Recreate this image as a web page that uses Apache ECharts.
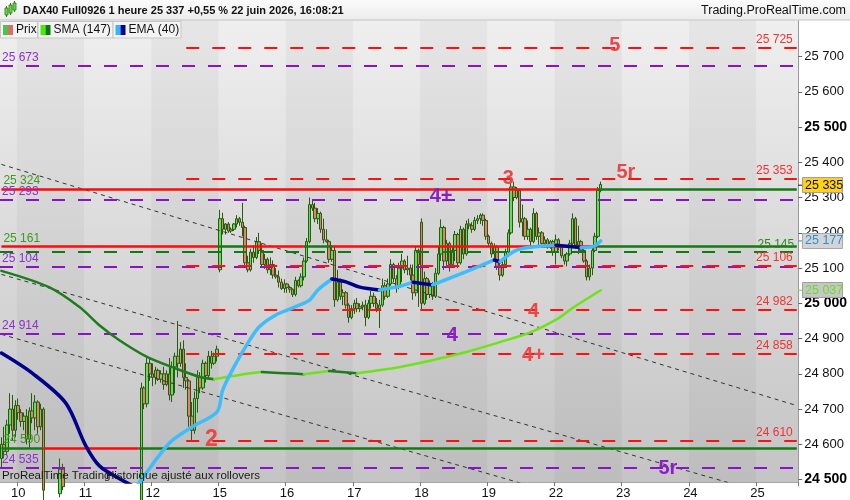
<!DOCTYPE html>
<html><head><meta charset="utf-8">
<script src="https://cdn.jsdelivr.net/npm/echarts@6/dist/echarts.min.js"></script>
<style>html,body{margin:0;padding:0;background:#fff}#c{width:850px;height:500px}</style>
</head><body><div id="c"></div>
<script>
// ---------- DATA ----------
const days = [9,10,11,12,15,16,17,18,19,22,23,24,25];
const firstDayHours = [18,19,20,21,22,23];
const lastDayBars = 15;
const titleText = 'DAX40 Full0926 1 heure 25 337 +0,55 % 22 juin 2026, 16:08:21';
const brandText = 'Trading.ProRealTime.com';
const footerText1 = 'ProRealTime Trading';
const footerText2 = 'Historique ajusté aux rollovers';
const yTicks = [24500,24600,24700,24800,24900,25000,25100,25200,25300,25400,25500,25600,25700];
const yMin = 24493.3, yMax = 25803.5;

// candles [open, close, low, high]
const day09 = [[24560,24600,24530,24620],[24600,24580,24560,24650],[24580,24655,24570,24670],[24655,24700,24630,24745],[24700,24640,24610,24740],[24640,24710,24620,24725]];
const day10 = [[24710,24690,24670,24730],[24690,24665,24650,24700],[24665,24680,24640,24690],[24680,24615,24600,24700],[24615,24695,24590,24705],[24695,24675,24660,24745],[24675,24720,24640,24740],[24720,24650,24630,24725],[24650,24700,24640,24715],[24700,24470,24440,24705],[24470,24420,24400,24480],[24420,24400,24380,24450],[24400,24410,24370,24430],[24410,24440,24390,24460],[24440,24460,24420,24480],[24460,24530,24450,24560],[24530,24480,24470,24545],[24480,24440,24420,24490],[24440,24420,24400,24460],[24420,24390,24380,24440],[24390,24370,24350,24410],[24370,24380,24340,24400],[24380,24350,24330,24400],[24350,24340,24320,24380]];
const day11 = [[24340,24330,24310,24360],[24330,24310,24295,24345],[24310,24320,24300,24340],[24320,24300,24285,24335],[24300,24290,24270,24310],[24290,24310,24280,24325],[24310,24330,24300,24350],[24330,24320,24305,24345],[24320,24300,24285,24330],[24300,24280,24260,24310],[24280,24300,24270,24320],[24300,24320,24290,24335],[24320,24340,24310,24355],[24340,24330,24315,24350],[24330,24350,24320,24370],[24350,24360,24340,24380],[24360,24340,24330,24375],[24340,24350,24330,24365],[24350,24370,24345,24390],[24370,24400,24360,24420],[24400,24760,24390,24775],[24760,24715,24700,24765],[24715,24830,24705,24845],[24830,24800,24780,24845]];
const day12 = [[24800,24790,24765,24830],[24790,24810,24770,24820],[24810,24785,24780,24815],[24785,24800,24775,24810],[24800,24770,24755,24820],[24770,24800,24765,24810],[24800,24740,24725,24845],[24740,24820,24720,24835],[24820,24850,24745,24860],[24850,24830,24790,24950],[24830,24870,24820,24890],[24870,24790,24760,24895],[24790,24780,24755,24830],[24780,24680,24650,24785],[24680,24640,24610,24720],[24640,24730,24630,24750],[24730,24790,24690,24810],[24790,24760,24745,24805],[24760,24830,24755,24840],[24830,24795,24775,24835],[24795,24850,24790,24865],[24850,24830,24815,24865],[24830,24850,24825,24860],[24850,24870,24835,24880]];
const day15 = [[25095,25240,25088,25265],[25240,25210,25195,25257],[25210,25225,25195,25228],[25225,25205,25200,25230],[25205,25210,25200,25215],[25210,25225,25205,25228],[25225,25240,25215,25250],[25240,25230,25220,25245],[25230,25215,25190,25285],[25215,25115,25100,25220],[25115,25095,25088,25135],[25095,25145,25090,25155],[25145,25130,25115,25165],[25130,25175,25125,25188],[25175,25150,25140,25200],[25150,25110,25105,25170],[25110,25125,25098,25140],[25125,25095,25085,25130],[25095,25110,25080,25130],[25110,25080,25070,25122],[25080,25075,25070,25100],[25075,25060,25045,25093],[25060,25042,25038,25070],[25042,25055,25030,25068]];
const day16 = [[25055,25045,25030,25058],[25045,25040,25030,25050],[25040,25025,25018,25042],[25025,25065,25020,25075],[25065,25050,25045,25068],[25050,25075,25045,25085],[25075,25120,25065,25130],[25120,25175,25115,25185],[25175,25280,25170,25300],[25280,25270,25262,25295],[25270,25240,25230,25285],[25240,25255,25225,25270],[25255,25210,25200,25260],[25210,25180,25170,25240],[25180,25175,25172,25210],[25175,25125,25115,25180],[25125,25150,25118,25165],[25150,25010,24990,25160],[25010,25060,25005,25095],[25060,25020,25010,25070],[25020,25030,24995,25040],[25030,24995,24985,25035],[24995,24960,24945,25000],[24960,24985,24955,24995]];
const day17 = [[24985,25000,24970,25010],[25000,24985,24975,25015],[24985,24990,24975,25000],[24990,24995,24980,25005],[24995,24960,24935,25010],[24960,25000,24955,25010],[25000,25020,24985,25035],[25020,25000,24990,25030],[25000,24985,24975,25015],[24985,24995,24930,25010],[24995,25050,24990,25070],[25050,25020,25010,25060],[25020,25055,25015,25070],[25055,25110,25050,25125],[25110,25070,25060,25115],[25070,25045,25030,25080],[25045,25100,25040,25115],[25100,25120,25060,25140],[25120,25095,25085,25125],[25095,25100,25080,25135],[25100,25080,25065,25110],[25080,25030,25010,25110],[25030,25150,25020,25160],[25150,25110,24990,25155]];
const day18 = [[25230,25000,24980,25241],[25000,25070,24995,25090],[25070,25025,25010,25075],[25025,25050,25015,25065],[25050,25020,25010,25060],[25020,25085,25015,25100],[25085,25140,25080,25160],[25140,25215,25120,25238],[25215,25120,25095,25220],[25120,25170,25100,25180],[25170,25110,25090,25175],[25110,25150,25105,25160],[25150,25195,25120,25205],[25195,25115,25100,25200],[25115,25210,25110,25220],[25210,25140,25125,25215],[25140,25225,25135,25235],[25225,25220,25210,25240],[25220,25210,25200,25230],[25210,25235,25205,25245],[25235,25240,25225,25250],[25240,25250,25225,25255],[25250,25235,25220,25255],[25235,25190,25180,25240]];
const day19 = [[25190,25170,25160,25195],[25170,25140,25130,25175],[25140,25160,25120,25170],[25160,25105,25095,25165],[25105,25080,25065,25120],[25080,25110,25075,25120],[25110,25145,25105,25155],[25145,25200,25140,25210],[25200,25330,25195,25350],[25330,25300,25290,25345],[25300,25320,25295,25330],[25320,25230,25215,25325],[25230,25240,25190,25280],[25240,25190,25180,25245],[25190,25210,25180,25235],[25210,25175,25165,25215],[25175,25255,25170,25270],[25255,25190,25180,25260],[25190,25200,25165,25215],[25200,25170,25160,25205],[25170,25180,25158,25190],[25180,25165,25155,25185],[25165,25175,25155,25180],[25175,25145,25135,25180]];
const day22 = [[25145,25180,25110,25195],[25180,25160,25150,25185],[25160,25135,25128,25165],[25135,25120,25110,25140],[25120,25140,25105,25145],[25140,25170,25135,25180],[25170,25240,25165,25255],[25240,25165,25155,25245],[25165,25175,25140,25220],[25175,25150,25145,25180],[25150,25120,25115,25155],[25120,25075,25065,25125],[25075,25100,25065,25110],[25100,25150,25080,25165],[25150,25190,25145,25200],[25190,25320,25185,25330],[25320,25337,25315,25345]];

// moving averages: [bar index, value]
const sma147 = [[0,25092],[17,25046],[28,24989],[35,24938],[42,24896],[52,24848],[61,24819],[71,24791],[76,24785],[85,24797],[93,24805],[101,24802],[108,24799],[117,24808],[127,24802],[142,24819],[154,24839],[166,24862],[178,24890],[189,24918],[199,24958],[204,24987],[214,25037]];
const ema40 = [[0,24859],[11,24802],[23,24717],[30,24598],[35,24539],[43,24499],[48,24478],[50,24500],[60,24604],[68,24649],[77,24692],[79,24754],[83,24819],[88,24887],[92,24933],[98,24967],[104,24987],[110,25009],[113,25038],[118,25069],[123,25061],[128,25046],[135,25038],[142,25048],[147,25060],[154,25052],[166,25090],[176,25123],[178,25118],[184,25151],[192,25162],[198,25165],[207,25158],[211,25160],[214,25177]];

// drawn levels
const purpleLevels = [25673, 25293, 25104, 24914, 24535];
const redDashLevels = [25725, 25353, 25106, 24982, 24858, 24610];
const redDashStart = 66;
const greenDashLevels = [25145];
const solidLevels = [
  {value: 25324, segs: [[0,213,'below'],[213,284,'above']]},
  {value: 25161, segs: [[0,77,'below'],[77,87,'above'],[87,108,'below'],[108,118,'above'],[118,213,'below'],[213,284,'above']]},
  {value: 24590, segs: [[0,15,'above'],[15,49,'below'],[49,284,'above']]}
];
const trendLines = [[[0,25394],[284,24710]], [[0,25082],[284,24436]], [[0,24912],[284,24266]]];
const annotations = [
  ['5',219,25730,'r'],['5r',223,25372,'r'],['3',181,25355,'r'],['4+',157,25304,'p'],
  ['4',190,24978,'r'],['4',161,24910,'p'],['4+',190,24853,'r'],['2',75,24612,'r'],['5r',238,24533,'p']
];
const priceBadge = 25335;

// ---------- BUILD ----------
const fmt = v => String(v).replace(/\B(?=(\d{3})+(?!\d))/g, ' ');
const categories = [];
const dayStart = new Set();
days.forEach((d, k) => {
  let hours;
  if (k === 0) hours = firstDayHours;
  else if (k === days.length - 1) hours = Array.from({length: lastDayBars}, (_, h) => h);
  else hours = Array.from({length: 24}, (_, h) => h);
  if (k > 0) dayStart.add(categories.length);
  hours.forEach(h => categories.push(d + '|' + h));
});
const candles = [].concat(day09, day10, day11, day12, day15, day16, day17, day18, day19, day22);

const RED = '#f03232', PURPLE = '#8a12c8', GREEN = '#137a13', LGREEN = '#3c9a1e';
const FONT = '"Liberation Sans", Arial, sans-serif';

function directional(points, upColor, downColor, width, z) {
  const runs = [];
  let run = [points[0]], dir = null;
  for (let k = 1; k < points.length; k++) {
    const d = points[k][1] >= points[k-1][1] ? 'up' : 'down';
    if (dir !== null && d !== dir) { runs.push({dir, pts: run}); run = [points[k-1]]; }
    dir = d; run.push(points[k]);
  }
  runs.push({dir, pts: run});
  return runs.map(r => ({
    type: 'line', silent: true, symbol: 'none', smooth: 0.3, z,
    data: r.pts.map(p => [categories[p[0]], p[1]]),
    lineStyle: {color: r.dir === 'up' ? upColor : downColor, width, cap: 'round'}
  }));
}

const markLines = [];
purpleLevels.forEach(v => markLines.push({yAxis: v,
  lineStyle: {color: PURPLE, type: [13,13], width: 2},
  label: {show: true, position: 'insideStartTop', formatter: fmt(v), color: '#8e2fd0', fontSize: 12, distance: [2, 2]}}));
greenDashLevels.forEach(v => markLines.push({yAxis: v,
  lineStyle: {color: GREEN, type: [13,13], width: 2},
  label: {show: true, position: 'insideEndTop', formatter: fmt(v), color: '#2f8a1f', fontSize: 12, distance: [4, 2]}}));
redDashLevels.forEach(v => markLines.push([
  {coord: [categories[redDashStart], v], lineStyle: {color: '#ff1010', type: [13,13], width: 2},
   label: {show: true, position: 'insideEndTop', formatter: fmt(v), color: RED, fontSize: 12, distance: [4, 2]}},
  {coord: [categories[categories.length - 1], v]}]));
solidLevels.forEach(s => s.segs.forEach((g, n) => markLines.push([
  {coord: [categories[g[0]], s.value],
   lineStyle: {color: g[2] === 'above' ? GREEN : '#ff0a0a', type: 'solid', width: 2.5},
   label: n === 0 ? {show: true, position: 'insideStartTop', formatter: fmt(s.value), color: LGREEN, fontSize: 12, distance: [2, 2]} : {show: false}},
  {coord: [categories[g[1]], s.value]}])));

const series = [
  {type: 'candlestick', data: candles, barWidth: 3, z: 2,
   itemStyle: {color: '#5ee05a', color0: '#e6806e', borderColor: '#2a5a12', borderColor0: '#2a5a12', borderWidth: 1}},
  {type: 'line', data: [], z: 4, silent: true,
   markLine: {silent: true, symbol: ['none','none'], animation: false, data: markLines}},
  {type: 'line', data: [], z: 10, silent: true,
   markPoint: {silent: true, symbol: 'rect', symbolSize: 1, itemStyle: {color: 'rgba(0,0,0,0)'},
     data: annotations.map(a => ({coord: [categories[a[1]], a[2]], value: a[0],
       label: {show: true, position: 'inside', formatter: a[0], fontWeight: 'bold', fontSize: a[0] === '2' ? 23 : 20,
               color: a[3] === 'r' ? '#ec4646' : '#8a1ec8', fontFamily: FONT}}))}}
];
trendLines.forEach(t => series.push({type: 'line', silent: true, symbol: 'none', z: 3,
  data: t.map(p => [categories[p[0]], p[1]]), lineStyle: {color: '#333', width: 1, type: [4,4]}}));
directional(sma147, '#6fe21c', '#1d7d1d', 2.5, 6).forEach(s => series.push(s));
directional(ema40, '#3fbdfb', '#00008c', 3.5, 7).forEach(s => series.push(s));

const isTick = (i) => dayStart.has(i);

const option = {
  animation: false,
  textStyle: {fontFamily: FONT},
  grid: {left: 0, right: 51, top: 20, bottom: 18, show: true, borderWidth: 0,
    backgroundColor: {type: 'linear', x: 0, y: 0, x2: 0, y2: 1,
      colorStops: [{offset: 0, color: '#efefef'}, {offset: 1, color: '#c4c4c4'}]}},
  xAxis: {type: 'category', data: categories, boundaryGap: true,
    axisLine: {show: true, lineStyle: {color: '#a8a8a8'}},
    axisTick: {show: true, interval: isTick, length: 4, lineStyle: {color: '#777'}},
    axisLabel: {interval: isTick, formatter: v => v.split('|')[0], color: '#111', fontSize: 13, margin: 5},
    splitLine: {show: false},
    splitArea: {show: true, interval: (i) => i === 0 || dayStart.has(i),
      areaStyle: {color: ['rgba(0,0,0,0)', 'rgba(0,0,0,0.035)']}}},
  yAxis: {type: 'value', position: 'right', min: yMin, max: yMax, scale: true,
    splitLine: {show: false},
    axisLine: {show: true, lineStyle: {color: '#9a9a9a'}},
    axisTick: {show: true, customValues: yTicks, length: 4, lineStyle: {color: '#666'}},
    axisLabel: {customValues: yTicks, margin: 6, color: '#111', fontSize: 13,
      formatter: v => v % 500 === 0 ? '{b|' + fmt(v) + '}' : fmt(v),
      rich: {b: {fontWeight: 'bold', fontSize: 14, color: '#000', fontFamily: FONT}}}},
  series
};

const chart = echarts.init(document.getElementById('c'));
chart.setOption(option);

// ---------- overlay (header, legend, badges) ----------
function badge(value, bg, border, color) {
  const y = chart.convertToPixel({yAxisIndex: 0}, value);
  return [
    {type: 'line', shape: {x1: 798, y1: y, x2: 803, y2: y}, style: {stroke: color, lineWidth: 1}, z: 100},
    {type: 'rect', shape: {x: 802.5, y: Math.round(y) - 7.5, width: 40, height: 15}, style: {fill: bg, stroke: border, lineWidth: 1}, z: 100},
    {type: 'text', x: 805, y: y, style: {text: fmt(value), fill: color, fontSize: 12.5, fontFamily: FONT, verticalAlign: 'middle', align: 'left'}, z: 101}
  ];
}
const lastSma = sma147[sma147.length - 1][1];
const lastEma = ema40[ema40.length - 1][1];
const g = [];
g.push({type: 'rect', shape: {x: 0, y: 0, width: 850, height: 20},
  style: {fill: {type: 'linear', x: 0, y: 0, x2: 0, y2: 1, colorStops: [{offset: 0, color: '#fbfbfb'}, {offset: 1, color: '#ececec'}]}, stroke: null}, z: 100});
g.push({type: 'line', shape: {x1: 0, y1: 20, x2: 850, y2: 20}, style: {stroke: '#c4c4c4', lineWidth: 1}, z: 100});
[[5,8,3,7],[9,5,3,8],[13,3,3,7]].forEach(r => {
  g.push({type: 'line', shape: {x1: r[0]+1.5, y1: r[1]-2, x2: r[0]+1.5, y2: r[1]+r[3]+2}, style: {stroke: '#2a7a12', lineWidth: 1}, z: 101});
  g.push({type: 'rect', shape: {x: r[0], y: r[1], width: r[2], height: r[3]}, style: {fill: '#6ad84a', stroke: '#2a7a12', lineWidth: 0.8}, z: 101});
});
g.push({type: 'text', x: 23, y: 10.5, style: {text: titleText, fill: '#111', fontSize: 11, fontWeight: 'bold', fontFamily: FONT, verticalAlign: 'middle'}, z: 101});
g.push({type: 'text', x: 846, y: 10.5, style: {text: brandText, fill: '#111', fontSize: 12.5, fontFamily: FONT, verticalAlign: 'middle', align: 'right'}, z: 101});
const legends = [
  {x: 0, w: 37, text: 'Prix', c1: '#49c649', c2: '#e06a6a'},
  {x: 37.5, w: 75, text: 'SMA (147)', c1: '#44ee00', c2: '#0a7a0a'},
  {x: 112.5, w: 68, text: 'EMA (40)', c1: '#33b8ff', c2: '#00009a'}
];
legends.forEach(l => {
  g.push({type: 'rect', shape: {x: l.x + 0.5, y: 21.5, width: l.w, height: 16.5}, style: {fill: '#f3f3f3', stroke: '#c6c6c6', lineWidth: 1}, z: 100});
  g.push({type: 'rect', shape: {x: l.x + 3, y: 25, width: 5, height: 10}, style: {fill: l.c1}, z: 101});
  g.push({type: 'rect', shape: {x: l.x + 8, y: 25, width: 5, height: 10}, style: {fill: l.c2}, z: 101});
  g.push({type: 'text', x: l.x + 16, y: 30, style: {text: l.text, fill: '#111', fontSize: 12, fontFamily: FONT, verticalAlign: 'middle'}, z: 101});
});
g.push({type: 'text', x: 2, y: 476, style: {text: footerText1, fill: '#1a1a1a', fontSize: 11.5, fontFamily: FONT, verticalAlign: 'middle'}, z: 101});
g.push({type: 'text', x: 106, y: 476, style: {text: footerText2, fill: '#1a1a1a', fontSize: 11.5, fontFamily: FONT, verticalAlign: 'middle'}, z: 101});
badge(priceBadge, '#ffd21a', '#a0a0a0', '#111').forEach(e => g.push(e));
badge(lastEma, '#d4d4d4', '#a8a8a8', '#2b8fd6').forEach(e => g.push(e));
badge(lastSma, '#c6c6c6', '#a0a0a0', '#66e022').forEach(e => g.push(e));

chart.setOption({graphic: {elements: g}});
</script>
</body></html>
